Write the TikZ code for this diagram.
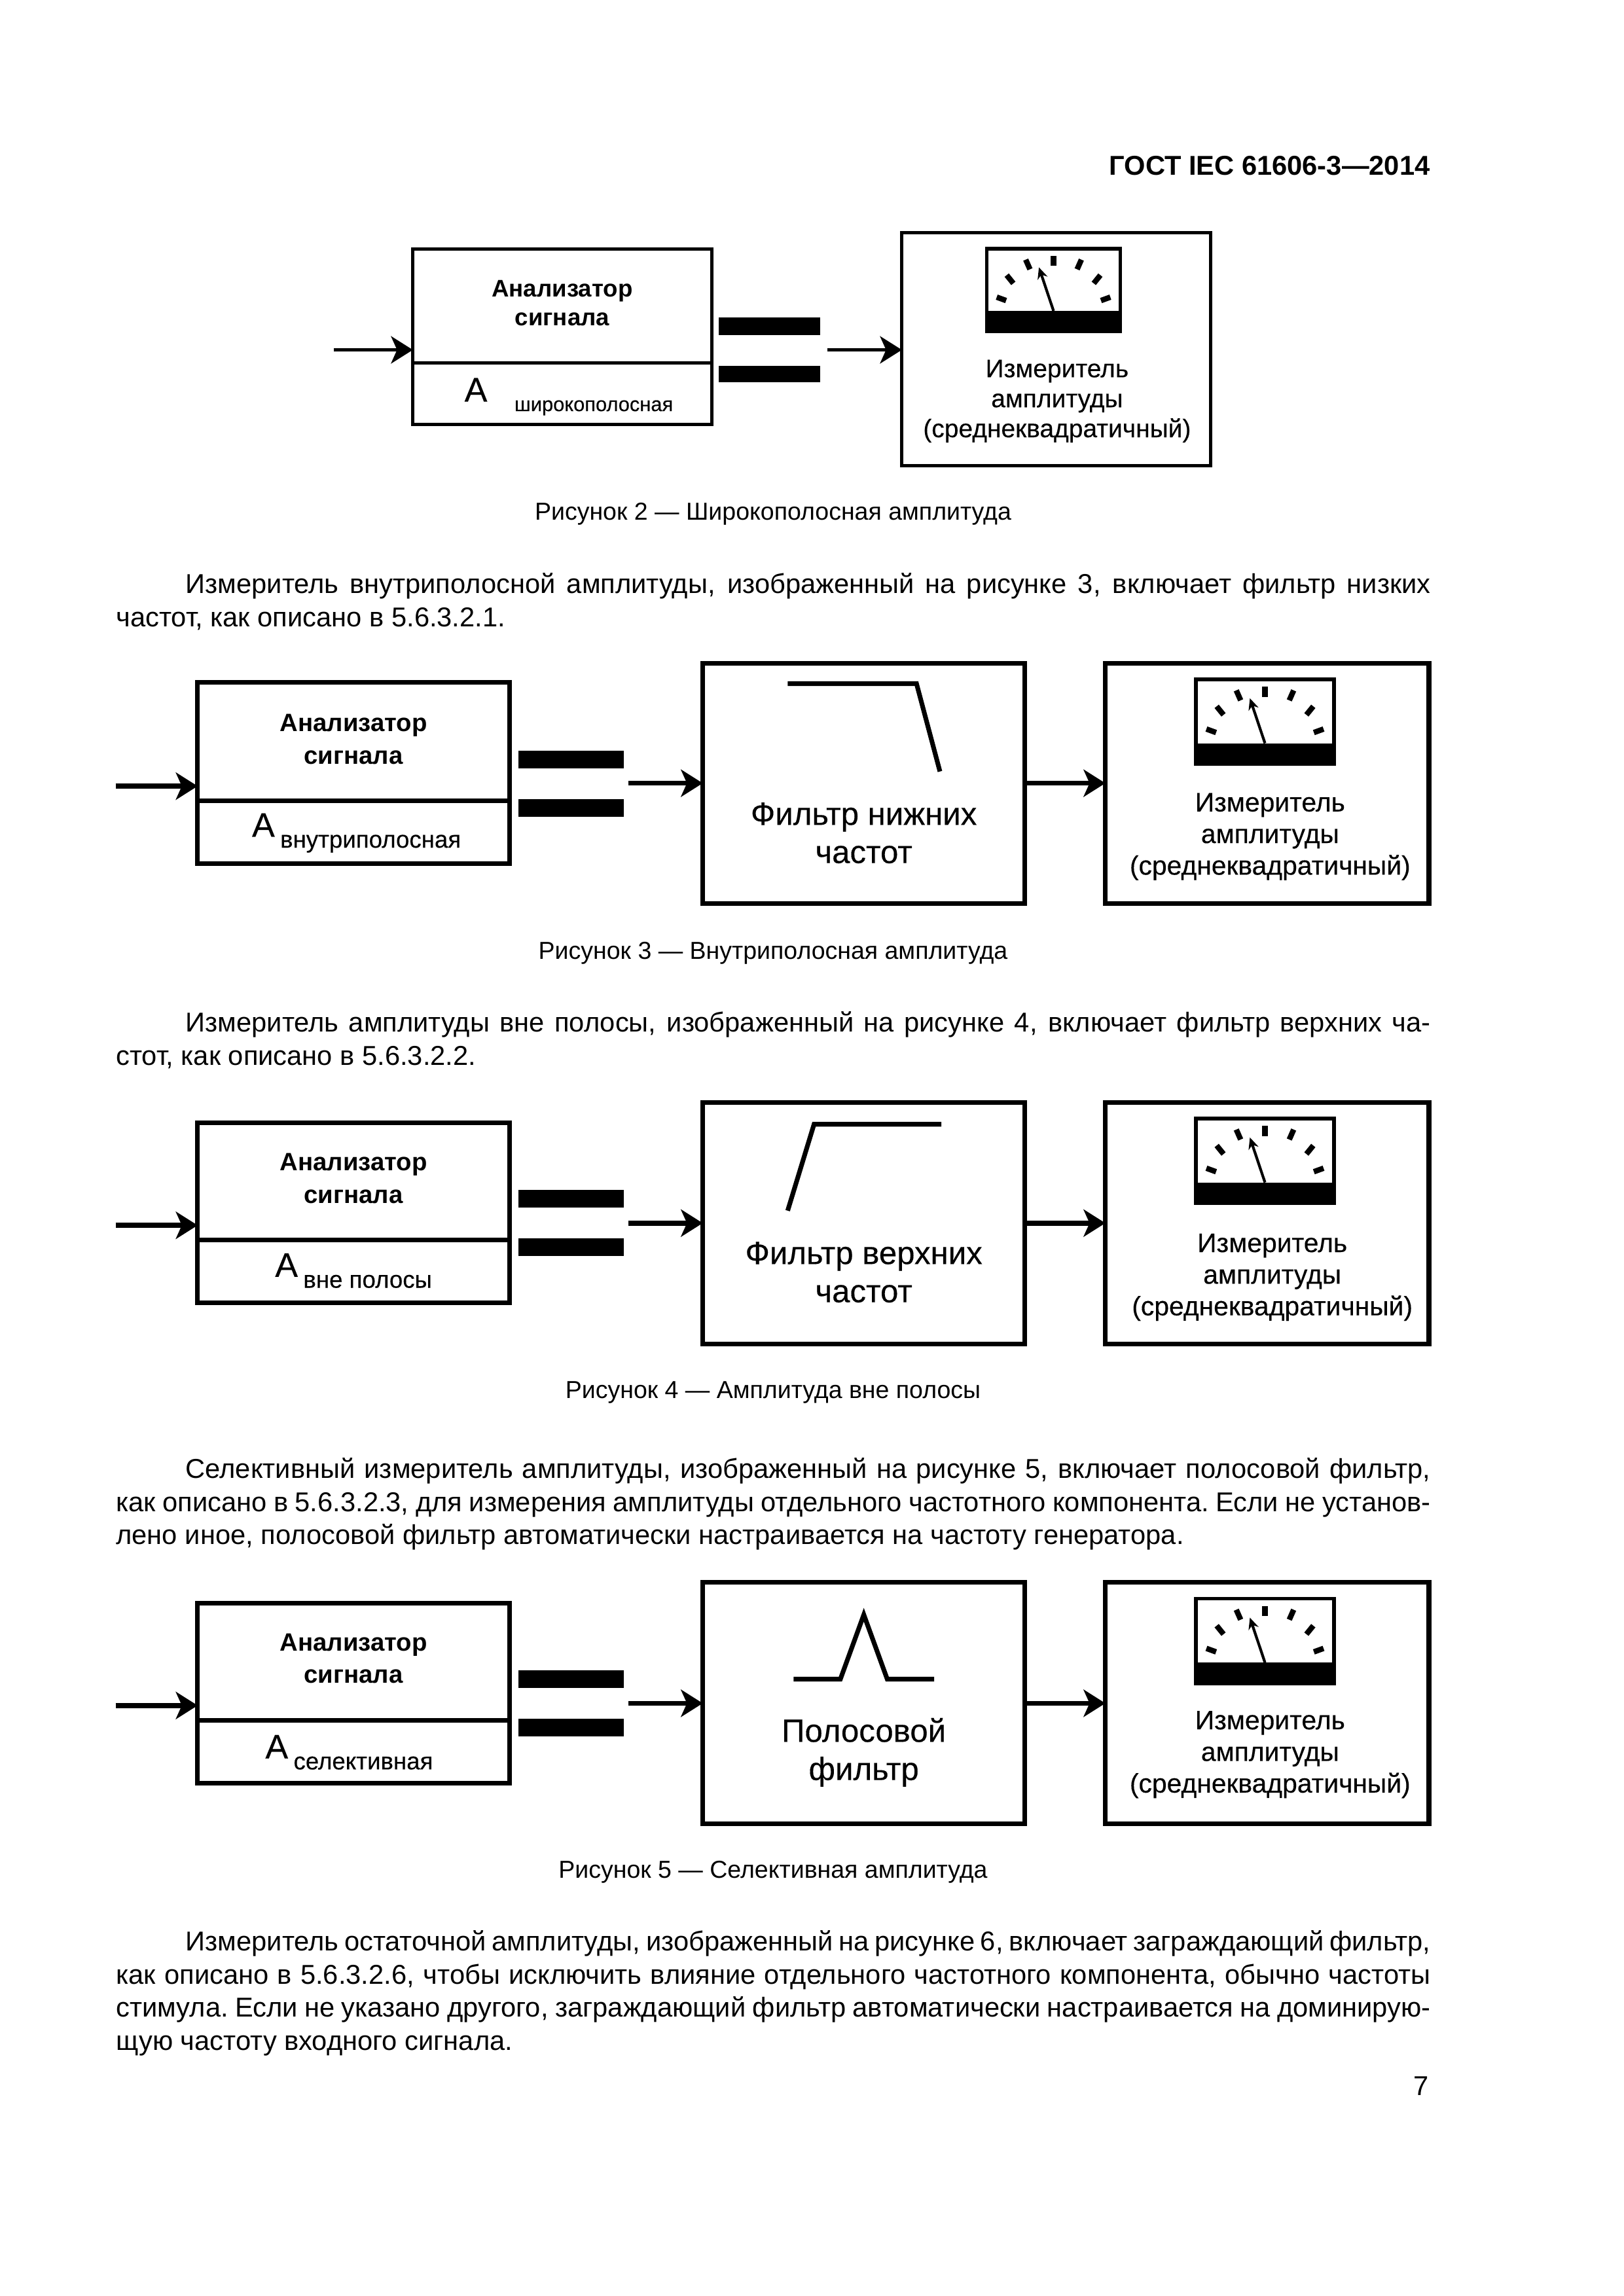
\documentclass[tikz,border=0pt]{standalone}
\usepackage{fontspec}
\setmainfont{Liberation Sans}
\newfontfamily\figfont[FakeBold=0.25]{Liberation Sans}
\usetikzlibrary{arrows.meta,positioning,fit}
\newcommand{\wordgap}{\spaceskip=.278em plus .3em minus .12em \xspaceskip=\spaceskip}
\newcommand{\fullline}[1]{\leavevmode\hbox to 482pt{\wordgap #1}}
\newcommand{\indentline}[1]{\leavevmode\hbox to 482pt{\wordgap\hspace*{25.5pt}#1}}
\newcommand{\restline}[1]{\leavevmode\hbox{\wordgap #1}}
\tikzset{
  pics/meter/.style={code={
    \draw[line width=1.4pt] (0,0) rectangle (94,58);
    \fill (0,43.7) rectangle (94,58);
    % scale marks, mirrored about the middle
    \foreach \xa/\ya/\xb/\yb in {27.4/7.6/30.4/14.4, 14/18.5/18.7/24.3, 7/34/13.6/36.4}{
      \draw[line width=2pt] (\xa,\ya) -- (\xb,\yb);
      \draw[line width=2pt] (94-\xa,\ya) -- (94-\xb,\yb);
    }
    \draw[line width=2pt] (47,5) -- (47,12);
    \draw[line width=1pt,-{Stealth[length=4.2pt,width=3.8pt]}] (47,43.7) -- (36.7,13);
  }}
}
\begin{document}
\begin{tikzpicture}[
  x=0.53689pt, y=-0.53689pt,
  box/.style  ={draw, line width=1.7pt, inner sep=0pt, outer sep=0pt},
  thinbox/.style={draw, line width=1.2pt, inner sep=0pt, outer sep=0pt},
  barbox/.style={fill=black, inner sep=0pt, outer sep=0pt},
  lbl/.style  ={inner sep=0pt, align=center, font=\figfont\fontsize{9.8}{11.6}\selectfont},
  head/.style ={inner sep=0pt, align=center, font=\fontsize{9.2}{11.8}\bfseries\selectfont},
  filt/.style ={inner sep=0pt, align=center, font=\figfont\fontsize{11.8}{14}\selectfont},
  para/.style ={inner sep=0pt, anchor=west, text width=482pt, align=left, font=\fontsize{10}{12.1}\selectfont},
  capt/.style ={inner sep=0pt, font=\fontsize{9}{11}\selectfont},
  sig/.style  ={line width=1.8pt, -{Stealth[length=8pt,width=10pt,inset=2.2pt]}},
  curve/.style={line width=1.7pt}
]
\useasboundingbox (0,0) rectangle (1108.8,1568.4);

\node[inner sep=0pt, anchor=east, font=\fontsize{10}{12}\bfseries\selectfont] (title) at (977,113) {ГОСТ IEC 61606-3—2014};
\node[inner sep=0pt, anchor=east, font=\fontsize{10}{12}\selectfont] (pageno) at (976,1425) {7};

% figure 2
\node[thinbox, fit={(282,170) (486,248)}] (an2) {};
\node[thinbox, fit={(282,248) (486,290)}] (val2) {};
\node[head, font=\fontsize{8.8}{10.7}\bfseries\selectfont] (an2txt) at (384,207) {Анализатор\\сигнала};
\node[inner sep=0pt] (val2txt) at (388.5,271) {\figfont\fontsize{12.5}{14}\selectfont А\hspace{10pt}\raisebox{-3.5pt}{\fontsize{7.4}{10}\selectfont широкополосная}};
\node[barbox, fit={(491,217) (560,229)}] (up2) {};
\node[barbox, fit={(491,250) (560,261)}] (lo2) {};
\node[thinbox, fit={(616,159) (827,318)}] (mbox2) {};
\pic[scale=.97] at (674,170) {meter};
\node[lbl, font=\figfont\fontsize{9.35}{11}\selectfont] (mtxt2) at (722,274) {Измеритель\\амплитуды\\(среднеквадратичный)};
\coordinate (in2) at (228,239);
\coordinate (out2) at (565,239);
\draw[sig, line width=1.2pt] (in2) -- (in2 -| an2.west);
\draw[sig, line width=1.2pt] (out2) -- (out2 -| mbox2.west);
\node[capt] (cap2) at (528,351) {Рисунок 2 — Широкополосная амплитуда};

\node[para] (par1) at (79,411) {\indentline{Измеритель внутриполосной амплитуды, изображенный на рисунке 3, включает фильтр низких}\\
  \restline{частот, как описано в 5.6.3.2.1.}};

% figure 3
\node[box, fit={(135,466) (348,547)}] (an3) {};
\node[box, fit={(135,547) (348,590)}] (val3) {};
\node[head] (an3txt) at (241.5,505) {Анализатор\\сигнала};
\node[inner sep=0pt] (val3txt) at (243.5,569) {\figfont\fontsize{12.5}{14}\selectfont А\hspace{2pt}\raisebox{-4pt}{\fontsize{8.8}{10}\selectfont внутриполосная}};
\node[barbox, fit={(354,513) (426,525)}] (up3) {};
\node[barbox, fit={(354,546) (426,558)}] (lo3) {};
\node[box, fit={(480,453) (700,617)}] (filt3) {};
\draw[curve] (538,467) -- (626,467) -- (642,527);
\node[filt] (ftxt3) at (590,569) {Фильтр нижних\\частот};
\node[box, fit={(755,453) (976,617)}] (mbox3) {};
\pic at (817,464) {meter};
\node[lbl] (mtxt3) at (867.5,571.5) {Измеритель\\амплитуды\\(среднеквадратичный)};
\coordinate (in3) at (79,537);
\coordinate (out3) at (429,535);
\draw[sig] (in3) -- (in3 -| an3.west);
\draw[sig] (out3) -- (out3 -| filt3.west);
\draw[sig] (filt3.east) -- (mbox3.west);
\node[capt] (cap3) at (528,651) {Рисунок 3 — Внутриполосная амплитуда};

\node[para] (par2) at (79,710.5) {\indentline{Измеритель амплитуды вне полосы, изображенный на рисунке 4, включает фильтр верхних ча-}\\
  \restline{стот, как описано в 5.6.3.2.2.}};

% figure 4
\node[box, fit={(135,767) (348,847)}] (an4) {};
\node[box, fit={(135,847) (348,890)}] (val4) {};
\node[head] (an4txt) at (241.5,805) {Анализатор\\сигнала};
\node[inner sep=0pt] (val4txt) at (241.5,868) {\figfont\fontsize{12.5}{14}\selectfont А\hspace{2pt}\raisebox{-4pt}{\fontsize{8.8}{10}\selectfont вне полосы}};
\node[barbox, fit={(354,813) (426,825)}] (up4) {};
\node[barbox, fit={(354,846) (426,858)}] (lo4) {};
\node[box, fit={(480,753) (700,918)}] (filt4) {};
\draw[curve] (538,827) -- (556,768) -- (643,768);
\node[filt] (ftxt4) at (590,869) {Фильтр верхних\\частот};
\node[box, fit={(755,753) (976,918)}] (mbox4) {};
\pic at (817,764) {meter};
\node[lbl] (mtxt4) at (869,872.5) {Измеритель\\амплитуды\\(среднеквадратичный)};
\coordinate (in4) at (79,837);
\coordinate (out4) at (429,835.5);
\draw[sig] (in4) -- (in4 -| an4.west);
\draw[sig] (out4) -- (out4 -| filt4.west);
\draw[sig] (filt4.east) -- (mbox4.west);
\node[capt] (cap4) at (528,951) {Рисунок 4 — Амплитуда вне полосы};

\node[para] (par3) at (79,1027.5) {\indentline{Селективный измеритель амплитуды, изображенный на рисунке 5, включает полосовой фильтр,}\\
  \fullline{как описано в 5.6.3.2.3, для измерения амплитуды отдельного частотного компонента. Если не установ-}\\
  \restline{лено иное, полосовой фильтр автоматически настраивается на частоту генератора.}};

% figure 5
\node[box, fit={(135,1095) (348,1175)}] (an5) {};
\node[box, fit={(135,1175) (348,1218)}] (val5) {};
\node[head] (an5txt) at (241.5,1133) {Анализатор\\сигнала};
\node[inner sep=0pt] (val5txt) at (238.5,1197) {\figfont\fontsize{12.5}{14}\selectfont А\hspace{2pt}\raisebox{-4pt}{\fontsize{8.8}{10}\selectfont селективная}};
\node[barbox, fit={(354,1141) (426,1153)}] (up5) {};
\node[barbox, fit={(354,1174) (426,1186)}] (lo5) {};
\node[box, fit={(480,1081) (700,1246)}] (filt5) {};
\draw[curve] (542,1147) -- (574,1147) -- (590,1103) -- (606,1147) -- (638,1147);
\node[filt] (ftxt5) at (590,1197) {Полосовой\\фильтр};
\node[box, fit={(755,1081) (976,1246)}] (mbox5) {};
\pic at (817,1092) {meter};
\node[lbl] (mtxt5) at (867.5,1198.5) {Измеритель\\амплитуды\\(среднеквадратичный)};
\coordinate (in5) at (79,1165);
\coordinate (out5) at (429,1163.5);
\draw[sig] (in5) -- (in5 -| an5.west);
\draw[sig] (out5) -- (out5 -| filt5.west);
\draw[sig] (filt5.east) -- (mbox5.west);
\node[capt] (cap5) at (528,1279) {Рисунок 5 — Селективная амплитуда};

\node[para] (par4) at (79,1361.5) {\indentline{Измеритель остаточной амплитуды, изображенный на рисунке 6, включает заграждающий фильтр,}\\
  \fullline{как описано в 5.6.3.2.6, чтобы исключить влияние отдельного частотного компонента, обычно частоты}\\
  \fullline{стимула. Если не указано другого, заграждающий фильтр автоматически настраивается на доминирую-}\\
  \restline{щую частоту входного сигнала.}};
\end{tikzpicture}
\end{document}
